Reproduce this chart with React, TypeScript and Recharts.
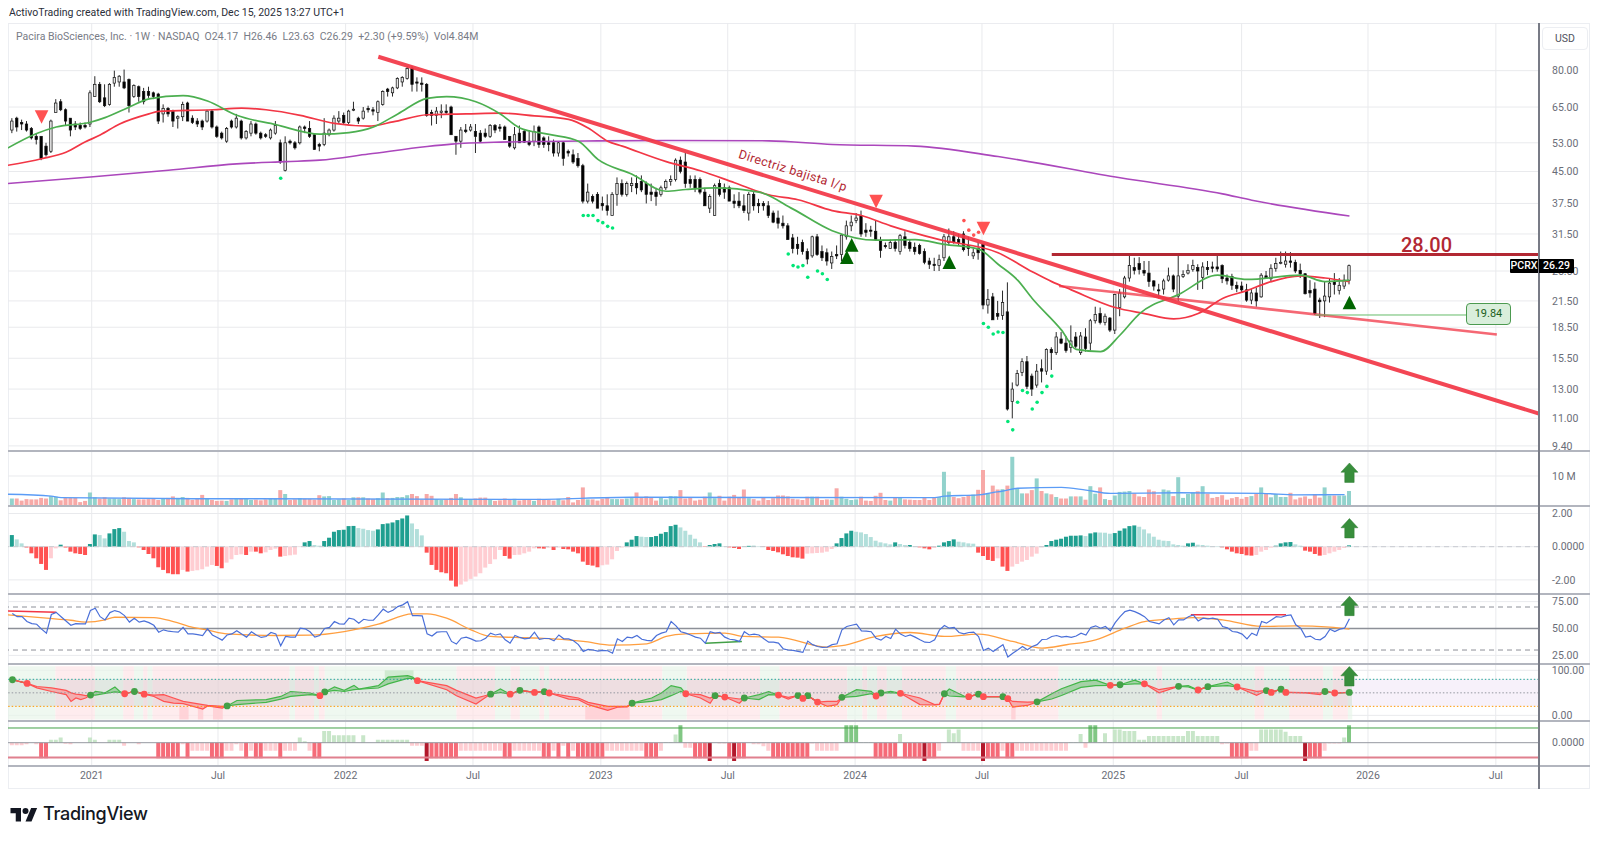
import React from "react";
import {
	Area,
	Bar,
	CartesianGrid,
	Cell,
	ComposedChart,
	Line,
	ReferenceArea,
	ReferenceLine,
	XAxis,
	YAxis,
} from "recharts";

// week index -> date tick labels
const xTicks = [16.27, 42.15, 68.3, 94.4, 120.6, 146.6, 172.7, 198.7, 225.6, 251.9, 277.8, 304];
const xLabels = ["2021", "Jul", "2022", "Jul", "2023", "Jul", "2024", "Jul", "2025", "Jul", "2026", "Jul"];

const priceTicks = [80, 65, 53, 45, 37.5, 31.5, 25.5, 21.5, 18.5, 15.5, 13, 11, 9.4];

// weekly candles
const opens = [
	57,61,59.5,59,57.5,55,55,52,50.5,63,
	67,64,61,59,58.5,58.5,59,69,74,68.5,
	66,74.5,75,75,76,69,73,71,71,70.5,
	70,62.5,64.5,63.5,61,61.5,66.5,61,60,60,
	60,63.5,58,56,53.5,60,58,60,54.5,56,
	59,56,55.5,54.5,56,53,45.3,53.5,53,53,
	58,57.5,55.5,52.5,52.5,55.5,57,60,62,59.5,
	64,61,61,64.5,64,63,66,72,70.5,72.5,
	75,76.5,81,75,74.5,74,63,62,63,63.5,
	65,55,53.5,57,57,56.5,56,56,55,58.5,
	58,58,55,51.5,56,56.5,53.5,53.5,58,54.5,
	53,53,50,53,50.5,49.5,48.5,46.5,38,39,
	39.5,37.5,37,35,39.5,42,39.5,41.5,42,42.5,
	42,40,40,39.5,41,42.5,43,48,47.5,43,
	43,43,40,36.5,35,42,41,41,38,38,
	37,35.5,39.5,37.5,37.5,37,35.5,34.5,33.5,33,
	30.8,29.7,30,28.5,27.8,31,28.5,28.3,26.7,28,
	28,31,33,34,35,32.2,32.2,32,30.2,29.5,
	29,30,28.5,31,30,29.2,29.5,28.5,27,26.5,
	26.3,27.5,30,31,30.5,31.5,29.5,27.8,29,29.7,
	21,22,20,19.8,20.2,12.1,13.3,14.3,15.2,14,
	13.3,14.6,14.4,16.3,16,17.3,16.9,16.5,17.5,16,
	17.5,16.9,19.2,20,19,19.5,18.2,20.7,22,24.5,
	26,26.6,25.6,25.2,24.1,22.9,23,24.2,24.8,22.1,
	24.7,25.2,25.7,26,24.6,26,26.1,26.1,26.3,24.5,
	24.7,23.5,23.4,22.9,21.6,22.5,22,24.8,24.4,25.9,
	26.7,26.5,27,26.8,25.6,25.1,22.8,23,21.6,21.5,
	22,24,22.8,23.4,24.17,
];
const highs = [
	61,61.5,60.5,60,58,56,55,53,60.5,68,
	68,64.5,61,60,59.5,59.5,71.5,77.5,75,74,
	74.5,80,78,80.5,76.5,74,73.5,72.5,73,71,
	70.5,66,65,64,62,67,67,62,61,60.5,
	64,64,58.5,56.5,58,60.5,62.5,60.5,57,60,
	59.5,56.5,56,57.5,60,54,55,54,53.5,58.5,
	58.5,60,56,53,61,57.5,62,63.5,63,64,
	67,61.5,65,65.5,65,67.5,71.5,72.5,73,77,
	77.5,82,82,77,77,74.5,64,65,66,66,
	65.5,55,58,59,59,59,57,57.5,59,59,
	59,58.5,55,58,58.5,57,57,58.5,58.5,55,
	55,54,53.5,53.5,51,51,50,47,42,39.5,
	40,39,39.5,40,43.5,43,42.5,43.5,44,44,
	42.5,42,41,41.5,43,44,48.5,49,50,44,
	44,43.5,41,39.5,42,43,42,41.5,39.5,40,
	39.5,40,40,38.5,38,38,36,36,35,33.5,
	31.5,31,30.5,29,31.2,31.5,29.5,29,28.5,29.5,
	31.5,34,35,35.5,36,33.5,33,34,31,30,
	30.5,30.5,31.5,32,30.5,30,29.8,29,27.5,27.5,
	28,31.5,32.5,32,31.5,32,31,29,30,29.8,
	23,22.5,21.5,22.8,23.9,13.5,14.5,15.5,15.7,14.2,
	15,15.4,16.4,16.5,18,18,17.6,18.7,18,18,
	18.4,19.4,20.8,20.7,20,19.6,22.4,23,24.8,28.2,
	27.5,27.6,27,27,24.2,23.7,24.4,26,25,27.8,
	25.6,26.5,27.2,26.5,26.8,27,26.9,28,26.5,25,
	25.1,24,24,23.7,23,23.2,25.2,25.5,26.5,27.5,
	28.5,28.5,28.4,27.2,26.6,25.2,24.2,23.9,21.9,24,
	24.5,25.2,24.5,25,26.46,
];
const lows = [
	56,56.5,57,56.5,54,52.5,48,49,50,63,
	63.5,58.5,55,57,57,57.5,58,69,66.5,65,
	65.5,73,73,72,63,68.5,67,66,68.5,68,
	59,59.5,61.5,58,57.5,60,60,59,58,57,
	59.5,57.5,54.5,54,53,57.5,57.5,54,54,55,
	55.5,54,54.5,54,55.5,47,45,52.5,51,52.5,
	56,54.5,51,50.5,52,55,56.5,59,59,59,
	63.5,59,60.5,63,62,60,65.5,69,69,72,
	73,76,71,71,71,61.5,58.5,59,61,62.5,
	55.5,49.5,51.5,56,56.5,50,53,54.5,54.5,56,
	56.5,54,51.5,51,53,53,52,52,51.5,51.5,
	50.5,49,49,46.5,49,47,46,37.5,37.5,37.5,
	36.5,36,35,35,37,39,39,40,39.5,40,
	37.5,38,37,39,40.5,41.5,42.5,44.5,41,41,
	40,39.5,37,35.5,35,39,38.5,38,36.5,36.5,
	35.5,34,36,35.5,36,34.5,33.5,32.5,32.5,30.5,
	28.2,28,28,26.5,27.5,27.8,27,26.3,25.8,27.3,
	27,30.5,32,33.5,31,31,31,30.3,27.5,29,
	29,28.5,28,29,28.5,28,28,26.5,25.8,25.5,
	25.5,27,29.5,29.8,29.5,28.5,27.8,27.3,27.2,20.5,
	20,19.3,19.3,19.3,11.5,11,13.2,14,13,12.5,
	13.1,13.5,14.1,14.5,15.8,16.8,16,16,16.4,15.8,
	16.1,16.2,18.9,18.8,18.7,18,17.8,19.7,21.8,24,
	25,25,24.8,23.3,22.8,21.8,22.3,24,22.6,21.5,
	24.5,25,25.4,22.9,23,24.9,25.3,25.4,23.8,23.6,
	22.9,22.6,22.5,21.4,21.1,20.8,21.9,24.4,24,25.4,
	26.5,26,26,25.2,24.5,22.3,21.9,19.84,19.5,19.6,
	21.3,22.3,22.3,23,23.63,
];
const closes = [
	60,58,59,57,54.5,54,48.5,49.5,60,66.5,
	64,60,57,58,57.5,58,70.5,74,67,65.5,
	74,77,77.5,72.5,65.5,73.5,69,67,69.5,69,
	60,64.5,62.5,60,61.5,66,60,59.5,59,58,
	63.5,58,55,54.5,57.5,58,61,54.5,56.5,59,
	56,54.5,55,57,58.5,47.5,53,53,51.5,58,
	57.5,55,51,52,56,57,61,61,59.5,63.5,
	64.2,60,63.5,64,63.5,67,71,71,72.5,76.5,
	77,81,74,74.5,74,62,62,63.5,63.5,63,
	55.5,53.5,57,56.5,58,55,53.5,55,58.5,57,
	57.5,54,52,55.5,53,53.2,52.5,56.5,52.5,52.5,
	52.5,50,53,48.5,50,47.5,46.5,38,40,38,
	36.5,37,36,39.5,42,39.5,42,42,41,40.5,
	39.5,39.5,39,41,42.5,43,48,45,42,42,
	41,40,37,39,41.5,39.5,40,38,37.5,37,
	36,39.5,37,37,37,35,33.7,33.5,33,30.5,
	29,29,28.5,27.3,31,28,27.5,27,27.7,27.8,
	31.3,33,33.7,34.5,31.5,31.8,32,30.5,28.7,29.3,
	30,29,31.2,29.5,29,28.5,28.2,26.8,26.5,26.3,
	27.2,31,31,30,30,28.8,29,28.3,28.3,21,
	21.7,19.3,19.7,21.3,11.6,13,14.2,15.2,13.2,13,
	14.4,14.4,16.3,16,17.5,16.9,16.2,17.1,16.6,17.6,
	16.4,19.2,19.9,19,19.7,18.2,22.3,22.5,24.5,26.3,
	25.6,25.7,25.2,24,23.4,22.8,24.1,24.8,23,24.8,
	25,25.6,26.3,25.5,26.1,25.7,25.9,25.8,24.4,24.1,
	23.5,23.1,22.9,21.6,22.5,21.5,24.9,24.5,25.9,26.6,
	26.8,27,26.8,25.5,25.1,22.4,22.5,20,21.4,22.1,
	23.8,23.6,23.5,24.2,26.29,
];

// moving averages, read at the turning points of each curve
const greenIdx = [-1,5,9,16,19,24,28,35,40,46,54,63,69,74,79,85,89,95,100,104,110,116,120,127,134,138,144,153,160,168,177,185,191,198,202,206,209,215,218,223,227,231,239,247,253,264,269,274];
const greenVal = [51.4,55.9,58,59.6,61.2,65,68.1,69.4,67.3,62,58.8,55.7,56.2,58,62.5,68.3,69,67,62.5,57.7,55.6,53.5,48.2,44.3,40.2,40.6,41,40,36.3,32.1,30.4,30.5,29.7,28.9,26.5,24.2,21.8,18.2,16.3,16.1,17.7,20,22.3,24.9,24.3,24.9,24,24.2];
const redIdx = [-1,6,11,15,18,22,28,30,41,47,52,59,66,73,78,85,93,100,107,114,118,122,125,134,141,148,155,161,168,174,180,190,202,209,213,217,226,232,238,243,248,253,257,264,269,274];
const redVal = [46.6,48.4,50.2,53.3,55.4,59,62.5,63.4,64,64.6,64,62,59.2,58.3,59.7,62.2,62.5,62.8,61.8,60.6,57.7,53.5,52,47.6,45.2,42.2,39.4,38.3,36,35,33,30.5,28.3,25.4,24,22.9,20.7,20,19.4,20,21.8,22.8,23.8,24.8,24.5,24];
const purpleIdx = [-1,16,32,46,56,63,73,85,90,100,120,134,155,168,185,202,227,248,254,274];
const purpleVal = [42,43.6,45.3,47,47.6,48,49.7,51.9,52.6,53.2,53.6,53.7,53.6,52.5,52,49,43.4,39.6,38.2,34.9];

// signal markers on the price pane
const triDownIdx = [6, 177, 199];
const triDownVal = [61.4, 37.9, 32.5];
const triUpIdx = [171, 172, 192, 274];
const triUpVal = [27.6, 29.6, 26.8, 21.3];
const greenDotIdx = [55,117,118,119,120,121,122,123,159,160,161,162,163,165,166,167,199,200,201,202,203,204,205,206,207,208,209,210,211,212,213];
const greenDotVal = [43.3,35,35,35,34,33.6,32.9,32.6,28.1,26.3,26.1,26.3,24.6,25.5,25.1,24.3,18.9,18.5,17.8,18,17.95,10.8,10.3,12.06,12.9,12.74,11.6,12.06,12.74,13.2,14];
const redDotIdx = [195, 196, 197, 198];
const redDotVal = [34, 32.2, 31.3, 31.8];

// drawn lines: [week, price]
const mainTrend = [[75, 86.6], [312.84, 11.3]];
const lowerTrend = [[214.5, 23.4], [304.2, 17.75]];
const resistanceFrom = 213;
const resistance = 28;
const supportFrom = 267;
const supportTo = 297.9;
const support = 19.84;

// volume, millions
const volume = [
	2.5,2.5,1.8,2.3,2.2,2.2,2.7,2.5,3.3,3.1,
	1.9,2.7,2.7,2.7,1.3,1.7,4.5,2.9,2.5,2.9,
	2.5,2.5,2.3,2.9,2.7,2.3,2.2,2.2,2.3,2.6,
	2,2.5,2.7,3.2,2.7,3,2.7,2,2.3,3.7,
	2.4,2,1.7,1.8,1.7,2.2,2.3,2.5,2.3,2,
	2.1,1.9,2.2,2.5,2.4,5.3,4,2,2.2,2.6,
	2.4,2.3,2.1,3.6,3.2,3.3,2,2.2,2.5,2,
	2.9,2.9,2.9,2.5,2.3,2.6,4.5,2.6,2.7,3,
	3,3.6,4,3.3,2.1,4,3.4,2.3,2,2.2,
	2.7,4,2.9,2.3,2.3,2.5,2.8,2.8,2.3,1.7,
	1.9,2.5,2.1,2.4,1.8,2.1,2.2,1.7,2.4,2.1,
	2.1,1.8,2.4,1.9,3,1.2,2,6.2,2.2,2.2,
	1.8,2.4,2.8,2.3,2.3,2.3,2.5,2.7,4.5,3,
	3.2,3,1.8,2.8,2.2,3.3,3.2,5.3,2.5,2.8,
	1.8,2.1,3.1,4.5,2.6,3.4,1.8,3.1,3.7,3,
	5.5,2.6,2.3,1.8,2.7,2,2.6,3.5,3.5,3.2,
	2.4,2.2,2,3.1,3.1,3.1,2,2.2,2.1,5.9,
	3.1,2.4,2,2.2,3.1,1.8,1.7,3.4,4.4,2,
	1.8,3,2.7,2.2,2.1,2,2,2.7,2,3,
	3,11.4,4.8,3,2.6,3,3.6,3.8,5.4,12,
	4,6.8,5.5,5.6,6.8,16.4,5.9,4.2,4.2,5.3,
	9.2,5,4.2,3.9,3,2.5,2.5,3.2,3.2,3.2,
	2.1,6.6,4.1,6.2,2.3,2,3.5,4.7,4.8,5,
	4.2,3.2,3,5.5,4.9,3.7,5.5,5.2,3.3,9.6,
	2.7,4,4.5,4.9,6.6,4.1,2.7,3,3.6,2.1,
	2.6,3,2.4,3,3.3,4,6.2,4,2.9,4,
	3,3,4.4,2.2,2.8,3.2,2.4,4,2.8,6.2,
	3.5,3.5,3.5,3.5,5,
];
const volMaIdx = [-1,8,10,37,106,127,189,191,198,201,203,206,215,220,225,239,256,263,273];
const volMaVal = [3.9,3.3,2.8,2.44,2.2,2.9,2.8,3.3,3.7,4.5,5,5.9,6.2,5.3,4.2,4.4,4.2,3.7,3.8];

// MACD histogram
const macd = [
	0.7,0.44,0.2,-0.05,-0.4,-0.7,-1.04,-1.4,-0.7,-0.1,
	0.12,-0.05,-0.3,-0.4,-0.44,-0.5,0.16,0.74,0.7,0.5,
	0.8,1.06,1.12,0.9,0.34,0.26,-0.04,-0.2,-0.44,-0.7,
	-1.24,-1.4,-1.6,-1.66,-1.66,-1.4,-1.5,-1.46,-1.42,-1.36,
	-1.2,-1.1,-1.16,-1.3,-0.96,-0.76,-0.5,-0.46,-0.5,-0.3,
	-0.3,-0.4,-0.34,-0.2,-0.12,-0.6,-0.56,-0.52,-0.48,-0.02,
	0.26,0.34,0.1,0.06,0.34,0.54,0.9,1,1.02,1.24,
	1.25,1.12,1.08,1,0.96,1.04,1.36,1.4,1.46,1.6,
	1.7,1.88,1.4,1.06,0.68,-0.36,-1.1,-1.4,-1.54,-1.6,
	-2.04,-2.4,-2.28,-2.1,-1.94,-1.8,-1.6,-1.26,-1.04,-0.76,
	-0.2,-0.56,-0.72,-0.5,-0.48,-0.4,-0.3,-0.1,-0.1,-0.12,
	-0.06,-0.2,-0.05,-0.14,-0.16,-0.3,-0.4,-0.9,-1.1,-1.14,
	-1.24,-1.12,-1.08,-0.76,-0.26,-0.05,0.26,0.42,0.64,0.6,
	0.58,0.58,0.64,0.78,0.88,1.24,1.32,1.16,0.96,0.72,
	0.48,0.26,-0.02,0.1,0.16,0.2,0.02,-0.04,-0.08,-0.14,
	0.02,0.05,0.05,0.02,-0.02,-0.2,-0.26,-0.34,-0.46,-0.56,
	-0.64,-0.66,-0.72,-0.42,-0.4,-0.38,-0.36,-0.3,-0.14,0.2,
	0.52,0.8,0.96,0.9,0.86,0.76,0.58,0.36,0.26,0.2,
	0.14,0.26,0.16,0.1,0.1,0.04,-0.04,-0.1,-0.16,-0.08,
	0.06,0.26,0.34,0.44,0.3,0.26,0.2,0.18,-0.36,-0.56,
	-0.8,-0.86,-0.7,-1.2,-1.46,-1.2,-1.04,-0.9,-0.8,-0.6,
	-0.42,-0.04,0.1,0.34,0.42,0.48,0.6,0.66,0.66,0.68,
	0.64,0.8,0.86,0.85,0.84,0.78,0.82,0.96,1.1,1.24,
	1.28,1.2,1.04,0.8,0.6,0.42,0.36,0.34,0.14,0.1,
	0.06,0.2,0.24,0.12,0.1,0.06,0.04,0.02,-0.04,-0.16,
	-0.3,-0.4,-0.44,-0.52,-0.54,-0.5,-0.3,-0.2,-0.06,0.06,
	0.2,0.26,0.28,0.14,0.06,-0.24,-0.3,-0.44,-0.54,-0.5,
	-0.4,-0.3,-0.2,-0.08,0.08,
];

// RSI
const rsi = [
	64,61,61,56.5,54.6,54,49.4,45.7,63,65,
	61,57,53,54.6,54.3,54.3,66.7,68.8,61,58,
	64.8,66.7,65.4,62,56,59.6,55.9,57,55.5,53,
	46.6,48.8,47.5,47,46.6,51,45,45,44.4,43.5,
	49.7,44,41.7,39.2,44,45,48,45,42,47,
	44,41.7,42.6,46.3,45,34,42.6,42,42,50.3,
	49.7,47,42,43.5,50,51,56.5,54.3,54,59.6,
	58.6,55,58.6,57.7,57.7,62.6,68,65,67,70.4,
	72,75,62,62,61.7,45,43,46.6,47,47,
	38,35.5,41,42,40.4,38.3,38.6,41,45.7,44,
	45,39.5,36.4,43.5,41.7,40.4,41,46.6,40,40.7,
	40.7,38.6,44,40.4,40.4,38.6,35,28.7,30.6,30,
	29,29.6,29.3,27,40.4,38,42,41.4,43.5,40,
	39,38.6,43.5,45.7,47,56.5,52.5,47,45.7,44,
	42,41,36.4,47,45.7,46.3,42,40,39.5,38,
	47,44,44.8,44,40.4,37.3,37.3,36.4,31,30,
	29.6,28.7,27.8,38.3,35,33.3,32.4,32.7,35,35.8,
	48.8,51.9,53,54,47.8,47.5,47,41,39.2,42.6,
	40.7,49.4,44.8,42.6,44,42,39.5,37.3,37,39.5,
	48.8,52.8,50.3,51,46.3,45,46.3,46.6,42.6,29.6,
	31.8,28.7,31.8,35,23.5,27,30,33.3,30.2,33.3,
	35,39.8,40,42.6,43.5,42,42.6,41.7,43,45.7,
	44,51,52.5,50.3,51.9,47.8,55.5,61,65.7,67,
	65.7,63.6,61,56.5,55.5,54.3,58,60,53.4,58,
	58,61,62.6,57,59.6,59,59.6,58.6,51.9,50.6,
	47.2,46.6,44.8,40.4,45.7,43.5,56.5,55,58,61,
	60.5,62,62.6,53.4,50.3,42,43,40,39.5,42.6,
	49.4,47.2,49.4,50.3,59,
];
const rsiMaIdx = [-1,7,12,15,19,21,29,33,37,40,44,54,61,68,75,82,85,89,94,98,103,108,117,123,130,134,138,146,150,157,167,170,177,184,191,198,205,211,216,222,228,232,238,242,248,256,263,270,274];
const rsiMaVal = [62.7,59.6,57.7,55.9,58,60.5,60.2,56.5,51,48.5,45,43.5,43.8,47.2,54,63.6,63.6,59.6,48.8,42.6,41.7,41,38,34.6,35.8,42.6,45,45.7,42.6,42,32.7,34,42.6,46.3,42.6,44.8,38,31.8,34.9,39.5,50.3,56.5,59,60.2,58,51.9,52.5,51.2,49.4];
const rsiDivergence = [
	{ from: [-0.88, 66.4], to: [9, 65.1], color: "#f23645" },
	{ from: [142, 36.4], to: [149.5, 38], color: "#43a047" },
	{ from: [241.5, 62.7], to: [261, 62.7], color: "#f23645" },
];

// oscillator crossings; crossing: 1 turns green, -1 turns red, 0 in between
const oscIdx = [0,3,5,8,11,12,13,14,15,16,17,19,21,22,23,25,27,29,31,33,35,39,40,43,44,46,52,55,57,61,63,64,66,68,70,71,75,77,81,82,83,89,91,95,97,98,100,102,104,107,109,110,114,116,118,122,124,126,127,131,133,135,137,138,141,143,144,146,149,150,153,155,157,159,161,162,163,165,167,169,170,173,176,177,178,180,182,186,189,190,191,192,195,196,198,199,203,204,205,208,210,213,215,219,222,225,227,230,232,235,239,241,243,245,249,251,255,257,258,260,261,265,268,269,271,274];
const oscHi = [79,71,64,61,55.5,50,47,46,44,45,53,50,63,53,48,53,47,45,46,38.5,31,23.7,22,20,21,33,35,42,53,49.6,43.7,52,63,55.5,66.6,58.5,66,85,88,85,77,66,55.5,38.5,44,47,58.5,47,55.5,51,52.6,49.6,42,38.5,29,20,20,20,27,38.5,49.6,66,61,48,46,38.5,43.7,40.7,36.3,38.5,46,52.6,45,40,44,37.7,43.7,29.6,31,31,40,57,53.4,43,49.6,53.4,49,38.5,24,25,48,58.5,43,41.5,47,41.5,41.5,37,31,29.6,30,48,59,75,78,66.6,68,78,70,57,64.4,66,56.3,63.7,74,63,53.4,55,51,58,51,50.4,49.6,53,49.6,51];
const oscLo = [79,71,61,53,46,31,38.5,35,38.5,45,45,49,52,51,48,53,47,42,31,27,26,14,21,16,21,24,29,36,42,46,43.7,52,55.5,53,57,58,60.7,70,82,82,77,57,43.7,25,40,47,51,47,55.5,51,52.6,49.6,36,35,23.7,11,18,19,27,31,35,43.7,53.4,48,38.5,27,43.7,40.7,27,38.5,35,46,45,36.3,44,37.7,43.7,29.6,20,23.7,40,42,48,43,49.6,50.4,49,24,23,24,48,43,41,41.5,47,41.5,41.5,37,18.5,22,30,36.3,44,62,66,66.6,68,70,70,50,64.4,63,56.3,63.7,66,63,44.4,55,51,58,51,50,46,53,49.6,51];
const oscCross = [1,-1,0,0,0,0,0,0,0,1,0,0,0,0,-1,1,-1,0,0,0,0,0,0,0,1,0,0,0,0,0,-1,1,0,0,0,0,0,0,0,0,-1,0,0,0,0,1,0,-1,1,-1,1,-1,0,0,0,0,0,0,1,0,0,0,0,-1,0,0,1,-1,0,1,0,0,-1,0,1,-1,1,-1,0,0,1,0,0,-1,1,0,-1,0,0,0,1,0,0,-1,1,-1,1,-1,0,0,1,0,0,0,0,-1,1,0,-1,0,1,0,-1,1,0,-1,0,1,-1,1,-1,0,0,1,-1,1];
// background state changes, starts green and alternates
const oscStops = [-0.88,8.8,16.9,22.7,24.9,26.8,27.7,28.7,56.8,57.9,61.8,62.8,64,91,98.9,102.1,104,108,109,110,133.2,138.2,153.2,157.2,171.1,174.2,175.2,177.2,179.2,182.3,191.3,193.4,214.4,234.5,235.6,254.6,256.5,261.7,268.6,270.6,273.7,274.6];
const oversold = [[34.2,36.1],[38,39.1],[41.1,43.1],[117.4,126.5],[204.7,205.6]];
const overbought = [[76.3,82.2]];

// last pane bars
const strength = [
	-18,-18,-18,-10,0,-10,-105,-105,20,20,
	35,-8,-10,0,0,0,35,20,0,0,
	20,20,20,-20,0,0,-10,0,0,0,
	-105,-105,-105,-105,-105,-10,-105,-55,-55,-55,
	-55,-105,-105,-105,-55,-55,-10,-55,-105,-55,
	-105,-105,-55,-55,-55,-105,-55,-55,-55,35,
	10,-55,-105,-105,80,80,50,50,50,50,
	50,0,50,0,0,20,20,20,20,20,
	20,20,-20,-20,-20,-125,-105,-105,-105,-105,
	-105,-105,-55,-55,-55,-55,-55,-55,-55,-55,
	-55,-105,-105,-55,-55,-55,-55,-55,-55,-105,
	-105,-55,-105,-20,-105,-55,-105,-105,-105,-105,
	-105,-105,-55,-55,-55,-55,-55,-55,-55,-55,
	-105,-105,-105,-55,5,5,55,118,-35,-35,
	-105,-105,-105,-125,0,-5,-5,-105,-125,-105,
	-105,0,-10,-10,-25,-55,-105,-105,-105,-105,
	-105,-105,-105,-105,-5,-55,-55,-55,-55,-55,
	5,118,118,118,5,5,5,-105,-105,-105,
	-105,-105,60,-105,-105,-105,-105,-125,-105,-105,
	-55,0,90,65,90,-55,-55,-55,-55,-125,
	-105,-105,-105,-55,-105,-105,-55,-55,-55,-55,
	-55,-55,-55,-55,-55,-55,-55,5,5,60,
	-35,118,118,5,65,5,90,90,80,80,
	80,20,20,45,45,45,45,45,45,45,
	45,80,80,45,45,45,45,45,-10,-5,
	-105,-105,-105,-105,-55,-55,90,90,90,90,
	90,75,45,45,45,-125,-105,-105,-105,-55,
	-5,-5,-5,35,118,
];

// big arrows sit on the last week of each lower pane
const lastWeek = 274;
const arrowVol = 11.1;
const arrowMacd = 1.11;
const arrowRsi = 71;
const arrowOsc = 86.7;

const pick = (idx: number[], vals: number[], i: number) => {
	const k = idx.indexOf(i);
	return k < 0 ? undefined : vals[k];
};

const rows: any[] = [-1, ...opens.map((_, i) => i)].map((i) => {
	const base: any = {
		i,
		green: pick(greenIdx, greenVal, i),
		red: pick(redIdx, redVal, i),
		purple: pick(purpleIdx, purpleVal, i),
		triDown: pick(triDownIdx, triDownVal, i),
		triUp: pick(triUpIdx, triUpVal, i),
		greenDot: pick(greenDotIdx, greenDotVal, i),
		redDot: pick(redDotIdx, redDotVal, i),
		volMa: pick(volMaIdx, volMaVal, i),
		rsiMa: pick(rsiMaIdx, rsiMaVal, i),
	};
	if (i < 0) return base;
	return {
		...base,
		o: opens[i],
		h: highs[i],
		l: lows[i],
		c: closes[i],
		range: [lows[i], highs[i]],
		vol: volume[i],
		macd: macd[i],
		rsi: rsi[i],
		strength: strength[i],
		arrowVol: i === lastWeek ? arrowVol : undefined,
		arrowMacd: i === lastWeek ? arrowMacd : undefined,
		arrowRsi: i === lastWeek ? arrowRsi : undefined,
	};
});

// oscillator table: a crossing row belongs to both colours so the bands meet
const oscRows: any[] = (() => {
	let up = true;
	return oscIdx.map((i, k) => {
		const band = [oscLo[k], oscHi[k]];
		const cross = oscCross[k];
		const row: any = { i };
		if (cross !== 0) {
			row.up = band;
			row.dn = band;
			if (cross > 0) row.dotUp = oscHi[k];
			else row.dotDn = oscHi[k];
			up = cross > 0;
		} else if (up) row.up = band;
		else row.dn = band;
		if (i === lastWeek) row.arrow = arrowOsc;
		return row;
	});
})();

const X_DOMAIN: [number, number] = [-0.88, 312.84];
const CHART_W = 1583;
const AXIS_W = 52;
const GRID = "#e9eaed";
const TICK = { fontSize: 10.5, fill: "#6a6d78", fontFamily: "Roboto" };
const MARGIN = { top: 0, right: 0, left: 0, bottom: 0 };

const Candle = (p: any) => {
	const { x, y, width, height, payload } = p;
	if (!payload || payload.range == null) return null;
	const top = Math.min(y, y + height);
	const span = Math.abs(height);
	const at = (v: number) =>
		top + (span * (Math.log(payload.h) - Math.log(v))) / (Math.log(payload.h) - Math.log(payload.l));
	const cx = x + width / 2;
	const up = payload.c >= payload.o;
	const bodyTop = at(Math.max(payload.o, payload.c));
	const bodyBot = at(Math.min(payload.o, payload.c));
	return (
		<g>
			<line x1={cx} x2={cx} y1={top} y2={top + span} stroke="#111" strokeWidth={0.9} />
			<rect
				x={cx - 1.2}
				y={bodyTop}
				width={2.4}
				height={Math.max(bodyBot - bodyTop, 1)}
				fill={up ? "#e4e4e4" : "#000"}
				stroke="#111"
				strokeWidth={0.7}
			/>
		</g>
	);
};

const triangle = (dir: "up" | "down", color: string) => (p: any) => {
	const { cx, cy, index, value } = p;
	if (value == null || cy == null) return <g key={index} />;
	const s = 6.8;
	const d =
		dir === "down"
			? `M${cx - s} ${cy - s}H${cx + s}L${cx} ${cy + s}Z`
			: `M${cx - s} ${cy + s}H${cx + s}L${cx} ${cy - s}Z`;
	return <path key={index} d={d} fill={color} />;
};

const dotMark = (color: string, r: number) => (p: any) => {
	const { cx, cy, index, value } = p;
	if (value == null || cy == null) return <g key={index} />;
	return <circle key={index} cx={cx} cy={cy} r={r} fill={color} />;
};

const arrowMark = (p: any) => {
	const { cx, cy, index, value } = p;
	if (value == null || cy == null) return <g key={index} />;
	const d = `M${cx} ${cy - 9.7}L${cx + 8.5} ${cy - 0.5}H${cx + 4.7}V${cy + 9.7}H${cx - 4.7}V${cy - 0.5}H${cx - 8.5}Z`;
	return <path key={index} d={d} fill="#388e3c" stroke="#2e7d32" strokeWidth={0.5} />;
};

const macdColor = (i: number) => {
	const v = macd[i];
	const prev = i > 0 ? macd[i - 1] : v;
	if (v >= 0) return v >= prev ? "#1f9f90" : "#b2dfdb";
	return v <= prev ? "#ff5252" : "#ffcdd2";
};

const strengthColor = (v: number) => {
	if (v > 100) return "#81c784";
	if (v >= 0) return "#c8e6c9";
	if (v < -120) return "#b2182b";
	if (v <= -100) return "#f66b78";
	return "#ffcdd2";
};

const hiddenX = (
	<XAxis dataKey="i" type="number" domain={X_DOMAIN} ticks={xTicks} allowDataOverflow hide />
);

const rightAxis = (ticks: number[], domain: [number, number], fmt: (v: number) => string, extra: any = {}) => (
	<YAxis
		orientation="right"
		width={AXIS_W}
		domain={domain}
		ticks={ticks}
		interval={0}
		allowDataOverflow
		axisLine={false}
		tickLine={false}
		tickMargin={7}
		tick={TICK}
		tickFormatter={fmt}
		{...extra}
	/>
);

const grid = (horizontal = true) => (
	<CartesianGrid stroke={GRID} strokeWidth={1} horizontal={horizontal} verticalValues={xTicks} />
);

const pane = (top: number) => ({ position: "absolute" as const, left: 8, top });

export default function App() {
	return (
		<div
			style={{
				position: "absolute",
				left: 0,
				top: 0,
				width: 1600,
				height: 842,
				background: "#fff",
				overflow: "hidden",
				fontFamily: "Roboto",
			}}
		>
			<div style={{ position: "absolute", left: 9, top: 6, fontSize: 10.5, color: "#2a2e39", whiteSpace: "pre" }}>
				ActivoTrading created with TradingView.com, Dec 15, 2025 13:27 UTC+1
			</div>
			<div style={{ position: "absolute", left: 8, top: 23, width: 1582, height: 766, border: "1px solid #eceef2", boxSizing: "border-box" }} />

			{/* price: the bottom margin leaves room for the lowest tick label */}
			<div style={pane(23)}>
				<ComposedChart width={CHART_W} height={440} data={rows} margin={{ ...MARGIN, bottom: 12 }}>
					{grid()}
					{hiddenX}
					{rightAxis(priceTicks, [9.13, 105], (v) => v.toFixed(2), { scale: "log" })}
					<Bar dataKey="range" barSize={4} shape={Candle} isAnimationActive={false} />
					<Line type="monotone" dataKey="purple" stroke="#ab47bc" strokeWidth={1.6} dot={false} connectNulls isAnimationActive={false} />
					<Line type="monotone" dataKey="red" stroke="#f23645" strokeWidth={1.7} dot={false} connectNulls isAnimationActive={false} />
					<Line type="monotone" dataKey="green" stroke="#4caf50" strokeWidth={1.7} dot={false} connectNulls isAnimationActive={false} />
					<ReferenceLine
						segment={[{ x: mainTrend[0][0], y: mainTrend[0][1] }, { x: mainTrend[1][0], y: mainTrend[1][1] }]}
						stroke="#f23645"
						strokeOpacity={0.92}
						strokeWidth={4}
					/>
					<ReferenceLine
						segment={[{ x: lowerTrend[0][0], y: lowerTrend[0][1] }, { x: lowerTrend[1][0], y: lowerTrend[1][1] }]}
						stroke="#f23645"
						strokeOpacity={0.75}
						strokeWidth={2.6}
					/>
					<ReferenceLine
						segment={[{ x: resistanceFrom, y: resistance }, { x: X_DOMAIN[1], y: resistance }]}
						stroke="#b22833"
						strokeWidth={3}
					/>
					<ReferenceLine
						segment={[{ x: supportFrom, y: support }, { x: supportTo, y: support }]}
						stroke="#66bb6a"
						strokeWidth={1}
					/>
					<Line dataKey="triDown" stroke="none" dot={triangle("down", "#ff5252")} isAnimationActive={false} />
					<Line dataKey="triUp" stroke="none" dot={triangle("up", "#006400")} isAnimationActive={false} />
					<Line dataKey="greenDot" stroke="none" dot={dotMark("#00e676", 1.8)} isAnimationActive={false} />
					<Line dataKey="redDot" stroke="none" dot={dotMark("#ff5252", 1.8)} isAnimationActive={false} />
				</ComposedChart>
			</div>

			{/* volume */}
			<div style={pane(451)}>
				<ComposedChart width={CHART_W} height={55} data={rows} margin={MARGIN}>
					{grid()}
					{hiddenX}
					{rightAxis([10], [0, 18.33], () => "10 M")}
					<Bar dataKey="vol" barSize={4} isAnimationActive={false}>
						{rows.map((r) => (
							<Cell key={r.i} fill={r.c >= r.o ? "#92d2cc" : "#f7a9a7"} />
						))}
					</Bar>
					<Line type="monotone" dataKey="volMa" stroke="#5b9cf6" strokeWidth={1.4} dot={false} connectNulls isAnimationActive={false} />
					<Line dataKey="arrowVol" stroke="none" dot={arrowMark} isAnimationActive={false} />
				</ComposedChart>
			</div>

			{/* macd */}
			<div style={pane(506)}>
				<ComposedChart width={CHART_W} height={88} data={rows} margin={MARGIN}>
					{grid()}
					{hiddenX}
					{rightAxis([2, 0, -2], [-2.85, 2.45], (v) => (v === 0 ? "0.0000" : v.toFixed(2)))}
					<ReferenceLine y={0} stroke="#c9cbd1" strokeDasharray="5 4" strokeWidth={1} />
					<Bar dataKey="macd" barSize={4} isAnimationActive={false}>
						{rows.map((r) => (
							<Cell key={r.i} fill={r.i < 0 ? "none" : macdColor(r.i)} />
						))}
					</Bar>
					<Line dataKey="arrowMacd" stroke="none" dot={arrowMark} isAnimationActive={false} />
				</ComposedChart>
			</div>

			{/* rsi */}
			<div style={pane(594)}>
				<ComposedChart width={CHART_W} height={70} data={rows} margin={MARGIN}>
					{grid()}
					{hiddenX}
					{rightAxis([75, 50, 25], [17, 82.1], (v) => v.toFixed(2))}
					<ReferenceLine y={70} stroke="#8d9098" strokeDasharray="5 4" strokeWidth={1} />
					<ReferenceLine y={50} stroke="#8d9098" strokeWidth={1.4} />
					<ReferenceLine y={30} stroke="#8d9098" strokeDasharray="5 4" strokeWidth={1} />
					{rsiDivergence.map((d, k) => (
						<ReferenceLine
							key={k}
							segment={[{ x: d.from[0], y: d.from[1] }, { x: d.to[0], y: d.to[1] }]}
							stroke={d.color}
							strokeWidth={1.5}
						/>
					))}
					<Line type="monotone" dataKey="rsiMa" stroke="#ff9f40" strokeWidth={1.3} dot={false} connectNulls isAnimationActive={false} />
					<Line dataKey="rsi" stroke="#4a6fd8" strokeWidth={1.2} dot={false} isAnimationActive={false} />
					<Line dataKey="arrowRsi" stroke="none" dot={arrowMark} isAnimationActive={false} />
				</ComposedChart>
			</div>

			{/* oscillator */}
			<div style={pane(664.3)}>
				<ComposedChart width={CHART_W} height={56.7} data={oscRows} margin={MARGIN}>
					{grid()}
					{hiddenX}
					{rightAxis([100, 0], [-11.8, 114], (v) => v.toFixed(2))}
					{oscStops.slice(0, -1).map((from, k) => (
						<ReferenceArea
							key={k}
							x1={from}
							x2={oscStops[k + 1]}
							y1={-9}
							y2={109}
							fill={k % 2 === 0 ? "#e8f5e9" : "#fde4e7"}
							fillOpacity={0.7}
							stroke="none"
						/>
					))}
					<ReferenceArea x1={X_DOMAIN[0]} x2={274.6} y1={20} y2={80} fill="#787b86" fillOpacity={0.12} stroke="none" />
					<ReferenceArea x1={274.6} x2={X_DOMAIN[1]} y1={20} y2={80} fill="#f7f1fa" fillOpacity={1} stroke="none" />
					{oversold.map((b, k) => (
						<ReferenceArea key={k} x1={b[0]} x2={b[1]} y1={-9} y2={20} fill="#ffcdd2" fillOpacity={0.8} stroke="none" />
					))}
					{overbought.map((b, k) => (
						<ReferenceArea key={k} x1={b[0]} x2={b[1]} y1={80} y2={100} fill="#c8e6c9" fillOpacity={0.8} stroke="none" />
					))}
					<ReferenceLine y={80} stroke="#26a69a" strokeDasharray="1.5 2" strokeWidth={1} />
					<ReferenceLine y={50} stroke="#9598a1" strokeDasharray="1.5 2" strokeWidth={1} />
					<ReferenceLine y={20} stroke="#ff9800" strokeDasharray="1.5 2" strokeWidth={1} />
					<Area dataKey="up" stroke="#43b649" strokeWidth={1.2} fill="#4caf50" fillOpacity={0.4} isAnimationActive={false} dot={false} />
					<Area dataKey="dn" stroke="#ff5252" strokeWidth={1.2} fill="#ff5252" fillOpacity={0.35} isAnimationActive={false} dot={false} />
					<Line dataKey="dotUp" stroke="none" dot={dotMark("#43a047", 3.4)} isAnimationActive={false} />
					<Line dataKey="dotDn" stroke="none" dot={dotMark("#ff5252", 3.4)} isAnimationActive={false} />
					<Line dataKey="arrow" stroke="none" dot={arrowMark} isAnimationActive={false} />
				</ComposedChart>
			</div>

			{/* strength bars + date axis */}
			<div style={pane(721)}>
				<ComposedChart width={CHART_W} height={72} data={rows} margin={MARGIN}>
					{grid(false)}
					<XAxis
						dataKey="i"
						type="number"
						domain={X_DOMAIN}
						ticks={xTicks}
						interval={0}
						allowDataOverflow
						height={27.3}
						axisLine={false}
						tickLine={false}
						tickMargin={0}
						tick={TICK}
						tickFormatter={(v) => xLabels[xTicks.indexOf(v)]}
					/>
					{rightAxis([0], [-156.5, 147.6], () => "0.0000")}
					<Bar dataKey="strength" barSize={4} isAnimationActive={false}>
						{rows.map((r) => (
							<Cell key={r.i} fill={strengthColor(r.strength ?? 0)} />
						))}
					</Bar>
					<ReferenceLine y={100} stroke="#43a047" strokeWidth={1} />
					<ReferenceLine y={0} stroke="#9598a1" strokeWidth={1} />
					<ReferenceLine y={-100} stroke="#e0808e" strokeWidth={2} />
				</ComposedChart>
			</div>

			{/* pane separators */}
			{[451, 506, 594, 664, 721, 766].map((y) => (
				<div key={y} style={{ position: "absolute", left: 8, top: y - 1, width: 1582, height: 2, background: "#b2b5be" }} />
			))}
			<div style={{ position: "absolute", left: 1538, top: 23, width: 2, height: 766, background: "#787b86" }} />

			{/* labels */}
			<div style={{ position: "absolute", left: 16, top: 30, fontSize: 10.5, color: "#787b86", whiteSpace: "pre" }}>
				Pacira BioSciences, Inc. · 1W · NASDAQ  O24.17  H26.46  L23.63  C26.29  +2.30 (+9.59%)  Vol4.84M
			</div>
			<div style={{ position: "absolute", left: 1542, top: 27, width: 46, height: 23, border: "1px solid #eceef2", borderRadius: 4, boxSizing: "border-box", background: "#fff", color: "#50535e", fontSize: 10.5, lineHeight: "21px", textAlign: "center" }}>
				USD
			</div>
			<div style={{ position: "absolute", left: 739, top: 146, fontSize: 12.5, color: "#b22833", letterSpacing: 0.4, transform: "rotate(17.3deg)", transformOrigin: "0 50%", whiteSpace: "pre" }}>
				Directriz bajista l/p
			</div>
			<div style={{ position: "absolute", left: 1401, top: 233, fontSize: 20, fontWeight: 500, color: "#b22833", whiteSpace: "pre" }}>
				28.00
			</div>
			<div style={{ position: "absolute", left: 1510, top: 259, width: 64, height: 14, background: "#000", color: "#fff", fontSize: 10.5, fontWeight: 500, lineHeight: "14px", display: "flex", borderRadius: 1 }}>
				<span style={{ width: 29, textAlign: "center", borderRight: "1px solid #787b86", boxSizing: "border-box" }}>PCRX</span>
				<span style={{ width: 35, textAlign: "center" }}>26.29</span>
			</div>
			<div style={{ position: "absolute", left: 1466, top: 303, width: 45, height: 22, background: "#d9eedb", border: "1px solid #4c9a50", borderRadius: 4, boxSizing: "border-box", color: "#1b5e20", fontSize: 11, lineHeight: "20px", textAlign: "center" }}>
				19.84
			</div>

			{/* logo */}
			<svg style={{ position: "absolute", left: 10, top: 805 }} width={28} height={21} viewBox="0 0 36 28">
				<path d="M14 22H7V11H0V4h14v18zM28 22h-8l7.5-18h8L28 22z" fill="#131722" />
				<circle cx={20} cy={8} r={4} fill="#131722" />
			</svg>
			<div style={{ position: "absolute", left: 43, top: 803, fontSize: 18, fontWeight: 500, fontFamily: "Inter", color: "#131722", letterSpacing: -0.3 }}>
				TradingView
			</div>
		</div>
	);
}
